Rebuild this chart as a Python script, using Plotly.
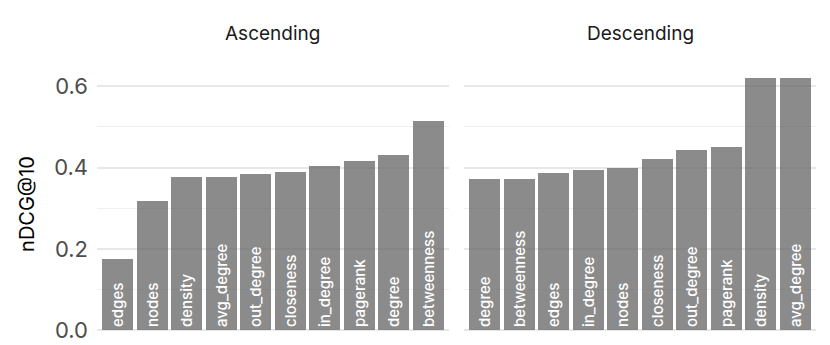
import plotly.graph_objects as go
from plotly.subplots import make_subplots

# dados
asc_labels = ["edges", "nodes", "density", "avg_degree", "out_degree",
              "closeness", "in_degree", "pagerank", "degree", "betweenness"]
asc_values = [0.175, 0.318, 0.378, 0.378, 0.385, 0.388, 0.404, 0.417, 0.430, 0.514]

desc_labels = ["degree", "betweenness", "edges", "in_degree", "nodes",
               "closeness", "out_degree", "pagerank", "density", "avg_degree"]
desc_values = [0.372, 0.373, 0.387, 0.393, 0.400, 0.422, 0.443, 0.450, 0.619, 0.621]

panel_titles = ["Ascending", "Descending"]

FONTE = "Inter, sans-serif"

fig = make_subplots(rows=1, cols=2, shared_yaxes=True, horizontal_spacing=0.0209)

for col, (labels, values) in enumerate([(asc_labels, asc_values), (desc_labels, desc_values)], 1):
    fig.add_trace(go.Bar(
        x=list(range(len(values))),
        y=values,
        width=0.9,
        text=labels,
        textposition='inside',
        insidetextanchor='start',
        textangle=-90,
        constraintext='none',
        textfont=dict(family=FONTE, size=15, color='white', weight=500),
        marker=dict(color='rgba(100,100,100,0.75)', line=dict(width=0)),
        hoverinfo='skip',
        showlegend=False
    ), row=1, col=col)
    fig.update_xaxes(range=[-0.6, 9.6], showticklabels=False, showgrid=False,
                     zeroline=False, row=1, col=col)

fig.update_yaxes(
    range=[-0.031, 0.652],
    dtick=0.2,
    tickformat=".1f",
    showgrid=True, gridcolor='#e8e8e8', gridwidth=1.6,
    zeroline=False,
    ticks='',
    minor=dict(dtick=0.1, showgrid=True, gridcolor='#f0f0f0', gridwidth=0.8),
    tickfont=dict(family=FONTE, size=22, color='#4d4d4d'),
)
fig.update_yaxes(
    title=dict(text="nDCG@10", standoff=14,
               font=dict(family=FONTE, size=20, color='black')),
    ticklabelstandoff=8,
    row=1, col=1
)

for i, t in enumerate(panel_titles):
    fig.add_annotation(
        text=t, xref=f"x{'' if i == 0 else i + 1} domain", yref='paper',
        x=0.5, y=1.115, xanchor='center', yanchor='middle', showarrow=False,
        font=dict(family=FONTE, size=19, color='#1a1a1a')
    )

# a página tem margem de 8px no body, por isso a figura é menor
fig.update_layout(
    width=822, height=337,
    margin=dict(l=89, r=14, t=57, b=2),
    plot_bgcolor='white', paper_bgcolor='white',
    bargap=0,
)

fig.write_html("out.html")
